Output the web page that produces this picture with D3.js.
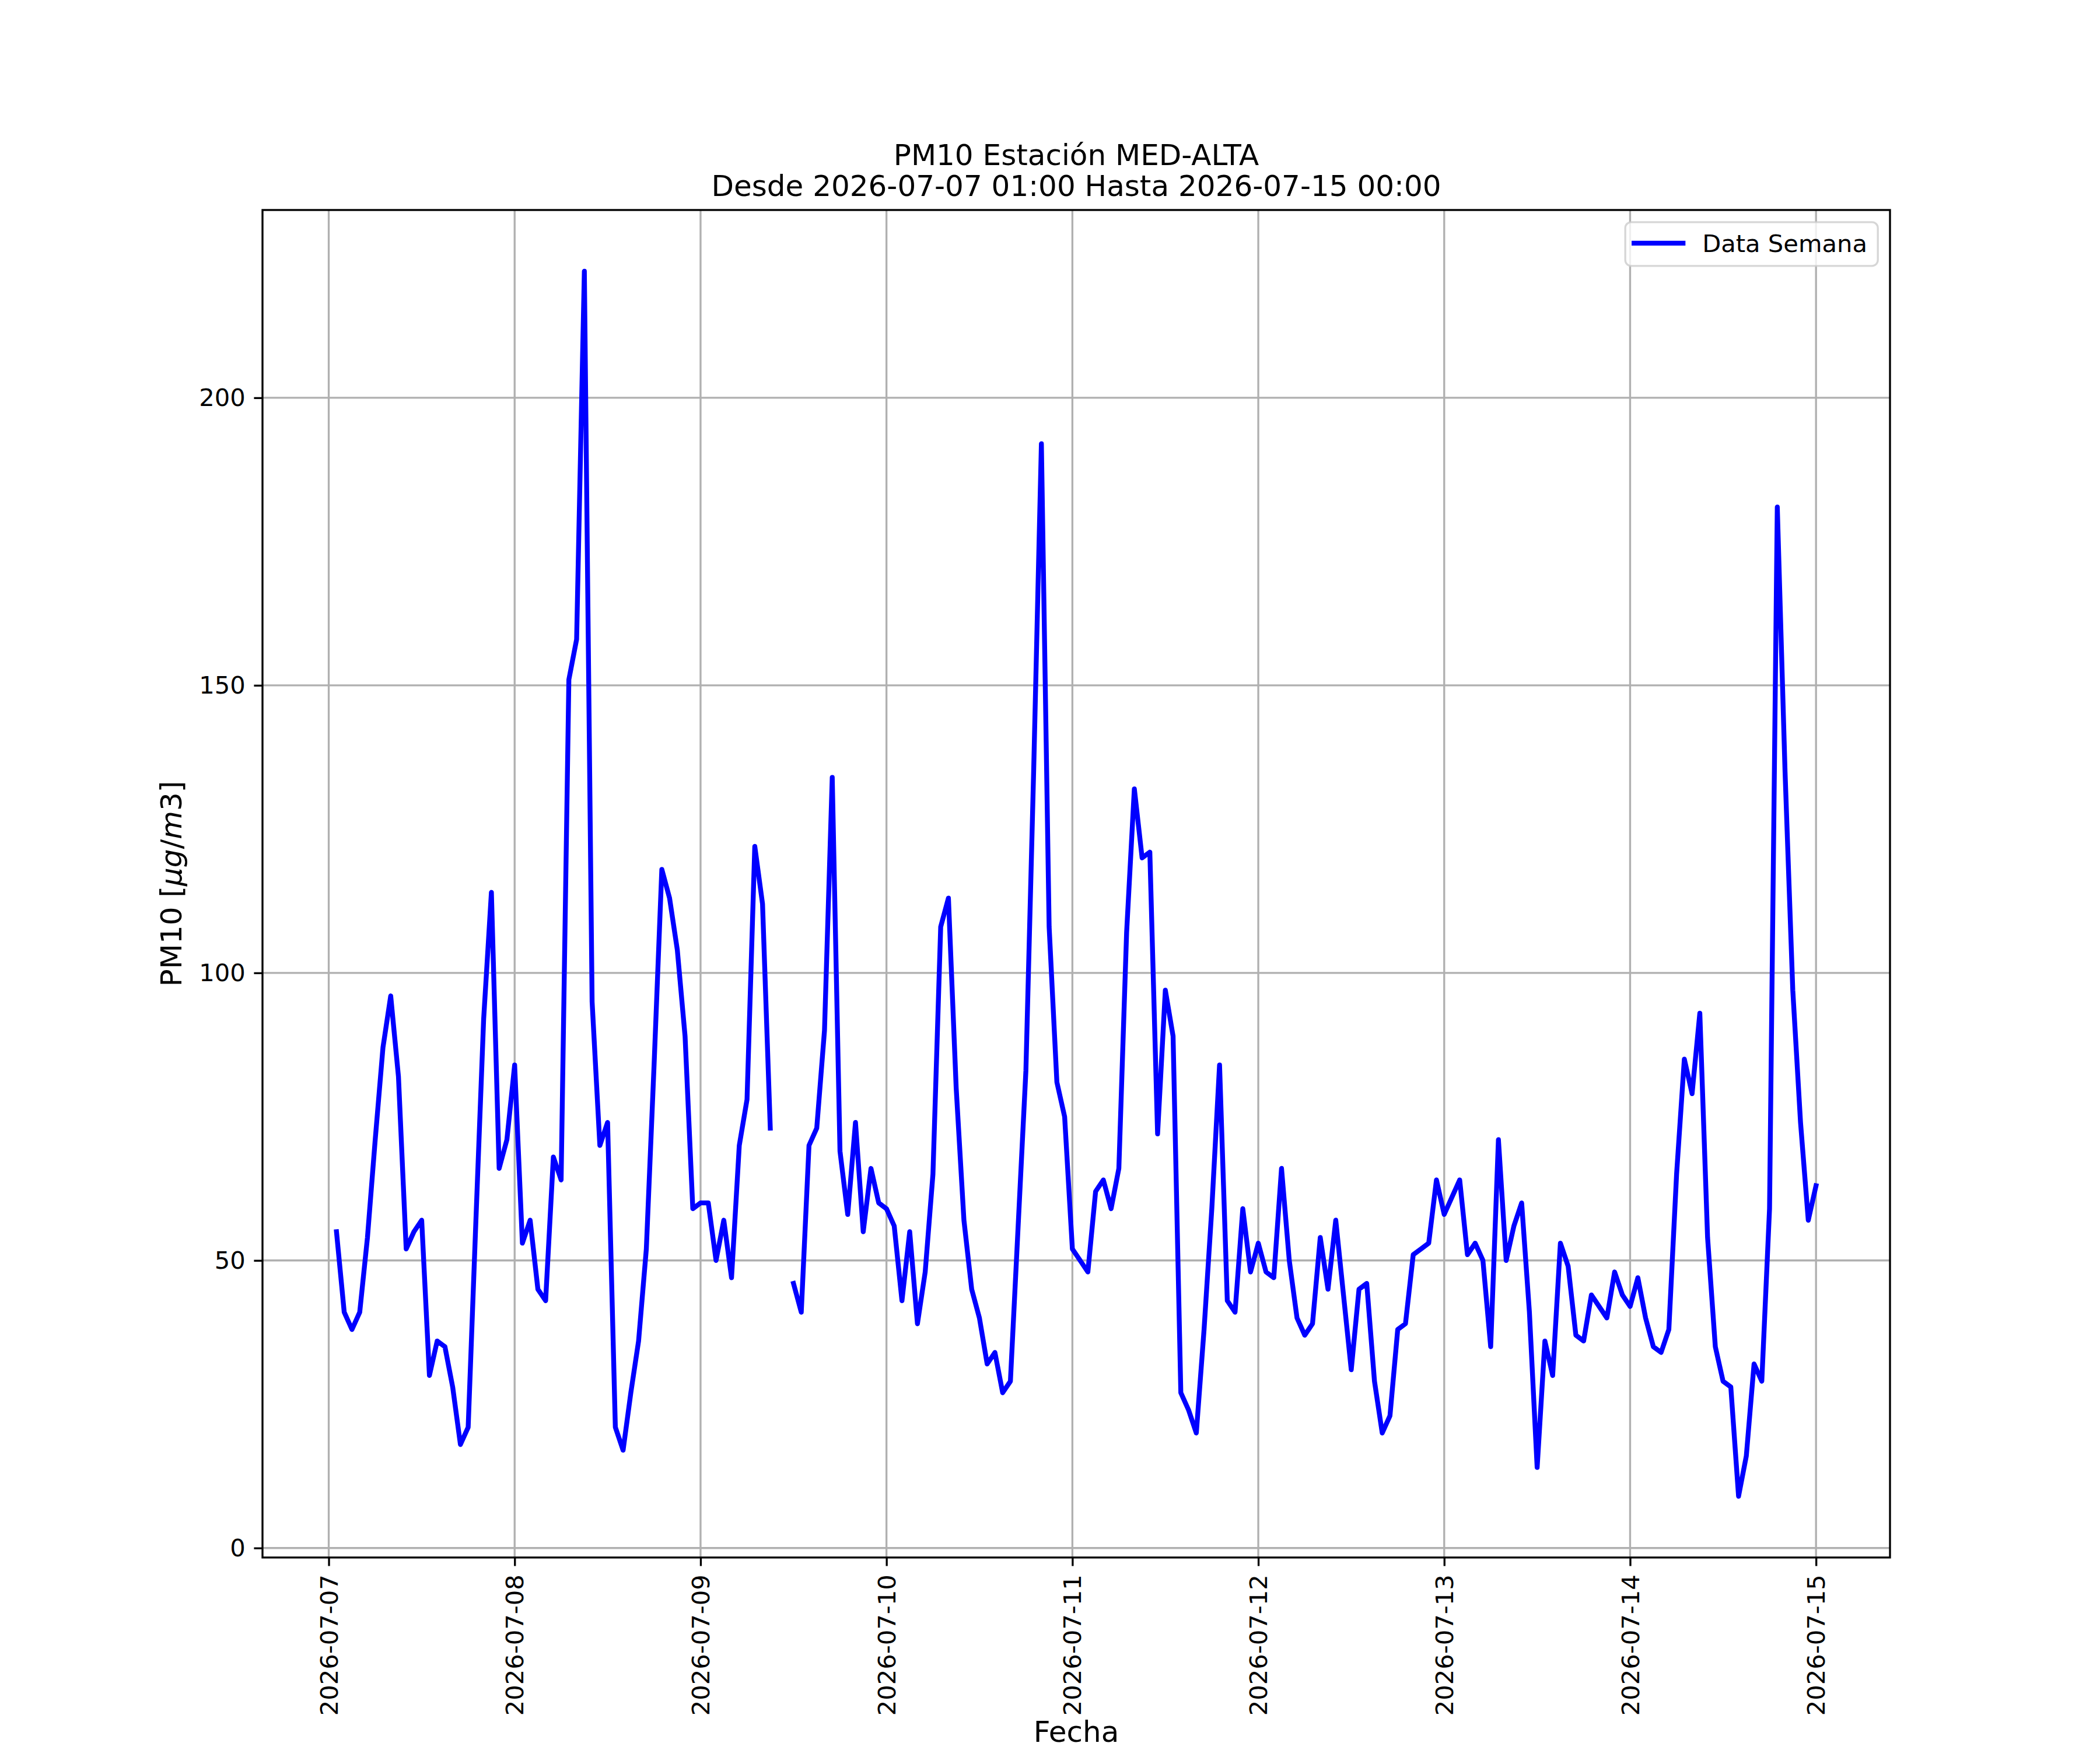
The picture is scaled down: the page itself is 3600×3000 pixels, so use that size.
<!DOCTYPE html>
<html>
<head>
<meta charset="utf-8">
<script src="https://cdn.jsdelivr.net/npm/d3@7"></script>
<style>
  body { margin: 0; background: #fff; }
  text { font-family: "DejaVu Sans", sans-serif; }
</style>
</head>
<body>
<div id="chart"></div>
<script>
// hourly PM10, first reading 2026-07-07 01:00 (UTC clock, no tz shift)
const startTime = Date.UTC(2026, 6, 7, 1);

const day1 = [55, 41, 38, 41, 54, 71, 87, 96, 82, 52, 55, 57, 30, 36, 35, 28, 18, 21, 57, 92, 114, 66, 71, 84];
const day2 = [53, 57, 45, 43, 68, 64, 151, 158, 222, 95, 70, 74, 21, 17, 27, 36, 52, 84, 118, 113, 104, 89, 59, 60];
const day3 = [60, 50, 57, 47, 70, 78, 122, 112, 73, null, null, 46, 41, 70, 73, 90, 134, 69, 58, 74, 55, 66, 60, 59];
const day4 = [56, 43, 55, 39, 48, 65, 108, 113, 80, 57, 45, 40, 32, 34, 27, 29, 56, 83, 135, 192, 108, 81, 75, 52];
const day5 = [50, 48, 62, 64, 59, 66, 107, 132, 120, 121, 72, 97, 89, 27, 24, 20, 38, 59, 84, 43, 41, 59, 48, 53];
const day6 = [48, 47, 66, 50, 40, 37, 39, 54, 45, 57, 44, 31, 45, 46, 29, 20, 23, 38, 39, 51, 52, 53, 64, 58];
const day7 = [61, 64, 51, 53, 50, 35, 71, 50, 56, 60, 41, 14, 36, 30, 53, 49, 37, 36, 44, 42, 40, 48, 44, 42];
const day8 = [47, 40, 35, 34, 38, 65, 85, 79, 93, 54, 35, 29, 28, 9, 16, 32, 29, 59, 181, 135, 97, 74, 57, 63];

const yTicks = [0, 50, 100, 150, 200];
const titleLines = ["PM10 Estación MED-ALTA", "Desde 2026-07-07 01:00 Hasta 2026-07-15 00:00"];
const legendLabel = "Data Semana";

const values = [].concat(day1, day2, day3, day4, day5, day6, day7, day8);
const data = values.map((v, i) => ({ t: new Date(startTime + i * 3600e3), v: v }));

// figure 12x10in @300dpi, matplotlib default subplot box
const width = 3600, height = 3000;
const margin = { top: 360, right: 360, bottom: 330, left: 450 };
const pt = 300 / 72;

const svg = d3.select("#chart")
  .append("svg")
  .attr("width", width)
  .attr("height", height)
  .attr("viewBox", [0, 0, width, height]);

svg.append("rect").attr("width", width).attr("height", height).attr("fill", "#fff");

// 5% auto margins like matplotlib
const tExt = d3.extent(data, d => d.t.getTime());
const tPad = (tExt[1] - tExt[0]) * 0.05;
const vExt = d3.extent(data.filter(d => d.v != null), d => d.v);
const vPad = (vExt[1] - vExt[0]) * 0.05;

const x = d3.scaleUtc()
  .domain([new Date(tExt[0] - tPad), new Date(tExt[1] + tPad)])
  .range([margin.left, width - margin.right]);

const y = d3.scaleLinear()
  .domain([vExt[0] - vPad, vExt[1] + vPad])
  .range([height - margin.bottom, margin.top]);

const dayTicks = d3.utcDay.range(d3.utcDay.ceil(x.domain()[0]), x.domain()[1]);

// grid
const grid = svg.append("g")
  .attr("stroke", "#b0b0b0")
  .attr("stroke-width", 0.8 * pt);

grid.selectAll(".gx")
  .data(dayTicks)
  .join("line")
  .attr("x1", d => x(d)).attr("x2", d => x(d))
  .attr("y1", margin.top).attr("y2", height - margin.bottom);

grid.selectAll(".gy")
  .data(yTicks)
  .join("line")
  .attr("y1", d => y(d)).attr("y2", d => y(d))
  .attr("x1", margin.left).attr("x2", width - margin.right);

// data line, gap where null
const line = d3.line()
  .defined(d => d.v != null)
  .x(d => x(d.t))
  .y(d => y(d.v));

svg.append("path")
  .datum(data)
  .attr("fill", "none")
  .attr("stroke", "#0000ff")
  .attr("stroke-width", 2 * pt)
  .attr("stroke-linejoin", "round")
  .attr("stroke-linecap", "square")
  .attr("d", line);

// axes
const tickLen = 3.5 * pt;
const fontTick = 10 * pt;

const xAxis = g => g
  .attr("transform", `translate(0, ${height - margin.bottom})`)
  .call(d3.axisBottom(x)
    .tickValues(dayTicks)
    .tickFormat(d3.utcFormat("%Y-%m-%d"))
    .tickSize(tickLen)
    .tickPadding(tickLen))
  .call(g => g.select(".domain").remove())
  .call(g => g.selectAll(".tick line").attr("stroke-width", 0.8 * pt))
  .call(g => g.selectAll(".tick text")
    .attr("transform", "rotate(-90)")
    .attr("text-anchor", "end")
    .attr("x", -(tickLen * 2))
    .attr("y", 0)
    .attr("dy", "0.35em"))
  .attr("font-size", fontTick)
  .attr("font-family", "DejaVu Sans");

const yAxis = g => g
  .attr("transform", `translate(${margin.left}, 0)`)
  .call(d3.axisLeft(y)
    .tickValues(yTicks)
    .tickSize(tickLen)
    .tickPadding(tickLen))
  .call(g => g.select(".domain").remove())
  .call(g => g.selectAll(".tick line").attr("stroke-width", 0.8 * pt))
  .attr("font-size", fontTick)
  .attr("font-family", "DejaVu Sans");

svg.append("g").call(xAxis);
svg.append("g").call(yAxis);

// spines
svg.append("rect")
  .attr("x", margin.left)
  .attr("y", margin.top)
  .attr("width", width - margin.left - margin.right)
  .attr("height", height - margin.top - margin.bottom)
  .attr("fill", "none")
  .attr("stroke", "#000")
  .attr("stroke-width", 0.8 * pt);

// title
const cx = (margin.left + width - margin.right) / 2;
svg.append("g")
  .selectAll("text")
  .data(titleLines)
  .join("text")
  .attr("x", cx)
  .attr("y", (d, i) => 283 + i * 53)
  .attr("text-anchor", "middle")
  .attr("font-size", 12 * pt)
  .text(d => d);

// axis labels
svg.append("text")
  .attr("x", cx)
  .attr("y", 2986)
  .attr("text-anchor", "middle")
  .attr("font-size", 12 * pt)
  .text("Fecha");

const ylab = svg.append("text")
  .attr("transform", `translate(311, ${(margin.top + height - margin.bottom) / 2}) rotate(-90)`)
  .attr("text-anchor", "middle")
  .attr("font-size", 12 * pt);
ylab.append("tspan").text("PM10 [");
ylab.append("tspan").attr("font-style", "italic").text("μg");
ylab.append("tspan").text("/");
ylab.append("tspan").attr("font-style", "italic").text("m");
ylab.append("tspan").text("3]");

// legend, upper right
const lgW = 433, lgH = 75;
const lgX = width - margin.right - 10 * pt * 0.5 - lgW;
const lgY = margin.top + 10 * pt * 0.5;
const legend = svg.append("g").attr("transform", `translate(${lgX}, ${lgY})`);

legend.append("rect")
  .attr("width", lgW).attr("height", lgH)
  .attr("rx", 10).attr("ry", 10)
  .attr("fill", "#fff").attr("fill-opacity", 0.8)
  .attr("stroke", "#cccccc").attr("stroke-opacity", 0.8)
  .attr("stroke-width", 0.8 * pt);

legend.append("line")
  .attr("x1", 15).attr("x2", 99)
  .attr("y1", 36).attr("y2", 36)
  .attr("stroke", "#0000ff")
  .attr("stroke-width", 2 * pt)
  .attr("stroke-linecap", "square");

legend.append("text")
  .attr("x", 132)
  .attr("y", 51)
  .attr("font-size", fontTick)
  .text(legendLabel);
</script>
</body>
</html>
